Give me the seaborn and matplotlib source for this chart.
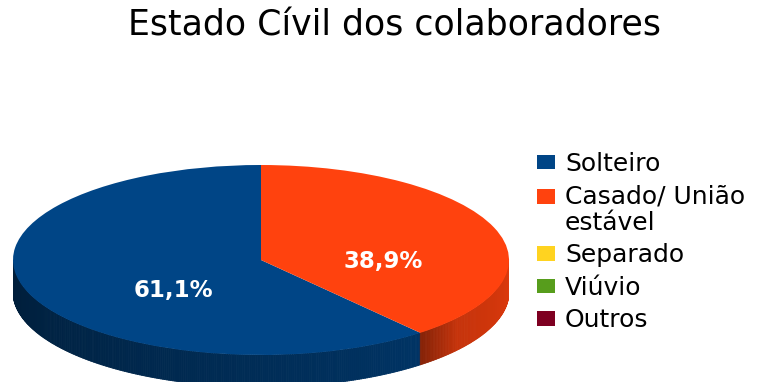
import textwrap
import numpy as np
import matplotlib
matplotlib.use("Agg")
import matplotlib.pyplot as plt
from matplotlib.collections import PolyCollection
from matplotlib.patches import Rectangle
from matplotlib.legend_handler import HandlerPatch
import seaborn as sns

# ---- data ----
categories = ["Solteiro", "Casado/ União estável", "Separado", "Viúvio", "Outros"]
values = [61.1, 38.9, 0.0, 0.0, 0.0]
pct_labels = ["61,1%", "38,9%"]
title = "Estado Cívil dos colaboradores"
hex_colors = ["#004586", "#ff420e", "#ffd320", "#579d1c", "#7e0021"]

sns.set_theme(style="white")
plt.rcParams["font.family"] = ["DejaVu Sans"]
colors = sns.color_palette(hex_colors)

W, H = 770, 382
fig = plt.figure(figsize=(W / 100, H / 100), dpi=100)
fig.patch.set_facecolor("white")

# geometry in pixels (layout only)
left_px, right_px, top_px, bot_px, depth_px = 13, 509, 165, 355, 32
ry = (bot_px - top_px) / 2
d = depth_px / ry
ax = fig.add_axes([left_px / W, (H - (bot_px + depth_px)) / H,
                   (right_px - left_px) / W, (bot_px + depth_px - top_px) / H])

start = 90.0
wedges, _ = ax.pie(values, colors=colors, startangle=start, counterclock=True,
                   radius=1.0, wedgeprops=dict(linewidth=0, antialiased=True),
                   normalize=True)
for w in wedges:
    w.set_zorder(3)
ax.set_aspect("auto")
ax.set_xlim(-1, 1)
ax.set_ylim(-1 - d, 1)
ax.axis("off")

# ---- side of the 3D disc (front half only) ----
total = sum(values)
angles = np.cumsum([0] + values) / total * 360.0 + start
polys, fcs = [], []
for i, v in enumerate(values):
    if v <= 0:
        continue
    a0, a1 = angles[i], angles[i + 1]
    th = np.linspace(a0, a1, int(max(2, (a1 - a0) * 2)))
    base = np.array(colors[i])
    for t0, t1 in zip(th[:-1], th[1:]):
        tm = (t0 + t1) / 2 % 360
        if not (180 <= tm <= 360):
            continue
        r0, r1 = np.radians(t0), np.radians(t1)
        polys.append([(np.cos(r0), np.sin(r0)), (np.cos(r1), np.sin(r1)),
                      (np.cos(r1), np.sin(r1) - d), (np.cos(r0), np.sin(r0) - d)])
        f = 0.42 + 0.45 * (tm - 180) / 180
        dist = (t0 - a0)
        if dist < 12 and a0 % 360 > 180:
            f *= 0.7 + 0.3 * dist / 12
        fcs.append(tuple(np.clip(base * f, 0, 1)))
pc = PolyCollection(polys, facecolors=fcs, edgecolors=fcs, linewidths=0.6, zorder=1)
ax.add_collection(pc)

# ---- percentage labels ----
for i, lab in enumerate(pct_labels):
    mid = np.radians((angles[i] + angles[i + 1]) / 2)
    ax.text(0.45 * np.cos(mid) + 0.07, 0.45 * np.sin(mid) - d / 2, lab,
            color="white", fontsize=16.5, fontweight="bold",
            ha="center", va="center", zorder=5)

# ---- title ----
fig.text(395 / W, 1 - 36 / H, title, ha="center", va="baseline",
         fontsize=25, color="black")

# ---- legend ----
labels = [textwrap.fill(c, 13) for c in categories]
leg_fs = 18


def make_square(nlines):
    def patch_func(legend, orig_handle, xdescent, ydescent, width, height, fontsize):
        shift = (nlines - 1) * 0.55 * fontsize
        return Rectangle((-xdescent, -ydescent + shift), width, height)
    return HandlerPatch(patch_func=patch_func)


handler_map = {w: make_square(lab.count("\n") + 1) for w, lab in zip(wedges, labels)}
leg = fig.legend(wedges, labels, loc="upper left",
                 bbox_to_anchor=(537 / W, 1 - 152 / H), frameon=False,
                 fontsize=leg_fs, labelcolor="black", handler_map=handler_map,
                 handlelength=0.72, handleheight=0.52,
                 handletextpad=0.4, labelspacing=0.34, borderpad=0,
                 borderaxespad=0)
for t in leg.get_texts():
    t.set_linespacing(1.12)

fig.savefig("out.png", dpi=100, facecolor="white")
